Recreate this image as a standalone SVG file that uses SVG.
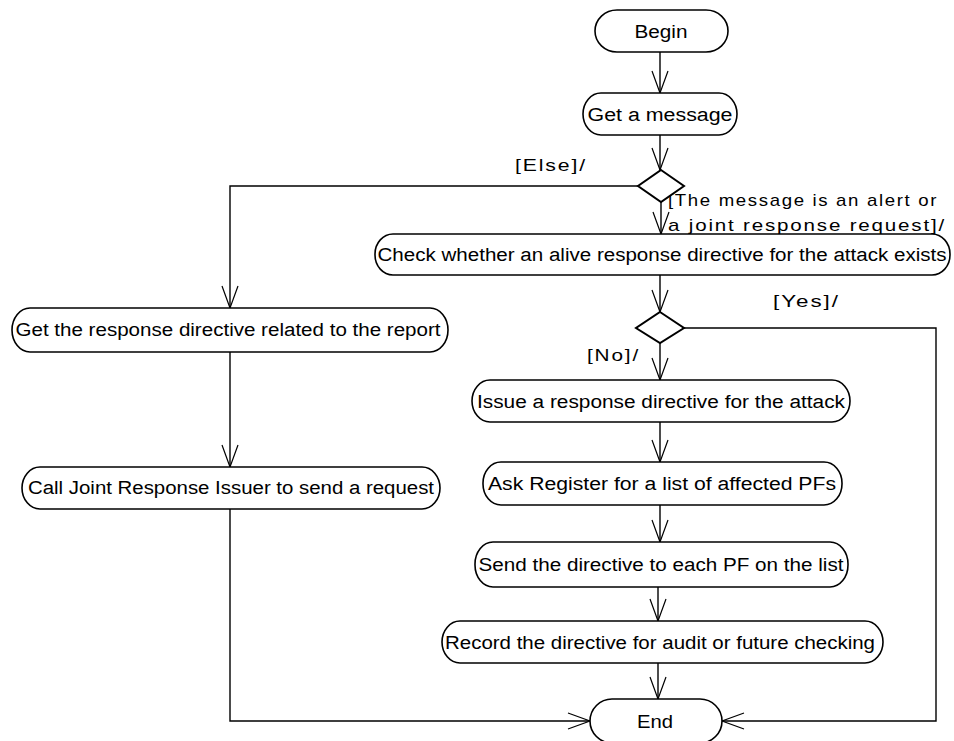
<svg xmlns="http://www.w3.org/2000/svg" width="954" height="741" viewBox="0 0 954 741">
<style>
.node{fill:#fff;stroke:#000;stroke-width:1.6}
.dia{fill:#fff;stroke:#000;stroke-width:2}
.t{font-family:"Liberation Sans",Arial,sans-serif;font-size:18px;fill:#000;text-anchor:middle}
.lbl{font-family:"Liberation Sans",Arial,sans-serif;font-size:17px;fill:#000;letter-spacing:1.5px}
.c{fill:none;stroke:#000;stroke-width:1.4}
</style>
<defs>
<marker id="arr" viewBox="0 0 24 18" refX="23" refY="9" markerWidth="24" markerHeight="18" markerUnits="userSpaceOnUse" orient="auto">
<path d="M1,1 L23,9 L1,17" fill="none" stroke="#000" stroke-width="1.2"/>
</marker>
</defs>
<rect width="954" height="741" fill="#fff"/>
<g id="connectors">
<path class="c" d="M660,52 V93" marker-end="url(#arr)"/>
<path class="c" d="M660,135 V170" marker-end="url(#arr)"/>
<path class="c" d="M661,202 V234" marker-end="url(#arr)"/>
<path class="c" d="M638,186 H230 V308" marker-end="url(#arr)"/>
<path class="c" d="M660,275 V312" marker-end="url(#arr)"/>
<path class="c" d="M660,343 V380" marker-end="url(#arr)"/>
<path class="c" d="M684,328 H936 V721 H722" marker-end="url(#arr)"/>
<path class="c" d="M660,422 V462" marker-end="url(#arr)"/>
<path class="c" d="M660,505 V542" marker-end="url(#arr)"/>
<path class="c" d="M658,587 V621" marker-end="url(#arr)"/>
<path class="c" d="M658,663 V699" marker-end="url(#arr)"/>
<path class="c" d="M230,352 V467" marker-end="url(#arr)"/>
<path class="c" d="M230,509 V721 H590" marker-end="url(#arr)"/>
<text class="lbl" x="515" y="171" textLength="72" lengthAdjust="spacingAndGlyphs">[Else]/</text>
<text class="lbl" x="668" y="206" textLength="270" lengthAdjust="spacingAndGlyphs">[The message is an alert or</text>
<text class="lbl" x="668" y="231" textLength="278" lengthAdjust="spacingAndGlyphs">a joint response request]/</text>
<text class="lbl" x="773" y="307" textLength="67" lengthAdjust="spacingAndGlyphs">[Yes]/</text>
<text class="lbl" x="587" y="361" textLength="53" lengthAdjust="spacingAndGlyphs">[No]/</text>
</g>
<g id="begin">
<rect class="node" x="595" y="10" width="133" height="42" rx="22" ry="21"/>
<text class="t" x="661" y="38" textLength="53" lengthAdjust="spacingAndGlyphs">Begin</text>
</g>
<g id="get-message">
<rect class="node" x="583" y="93" width="154" height="42" rx="18" ry="21"/>
<text class="t" x="660" y="121" textLength="145" lengthAdjust="spacingAndGlyphs">Get a message</text>
</g>
<g id="decision1">
<polygon class="dia" points="661,170 684,186 661,202 638,186"/>
</g>
<g id="check">
<rect class="node" x="375" y="234" width="575" height="41" rx="18" ry="20"/>
<text class="t" x="662" y="261" textLength="569" lengthAdjust="spacingAndGlyphs">Check whether an alive response directive for the attack exists</text>
</g>
<g id="decision2">
<polygon class="dia" points="660,312 684,328 660,343 636,328"/>
</g>
<g id="get-response">
<rect class="node" x="12" y="308" width="436" height="44" rx="18" ry="22"/>
<text class="t" x="228" y="336" textLength="425" lengthAdjust="spacingAndGlyphs">Get the response directive related to the report</text>
</g>
<g id="call-joint">
<rect class="node" x="22" y="467" width="418" height="42" rx="18" ry="21"/>
<text class="t" x="231" y="494" textLength="406" lengthAdjust="spacingAndGlyphs">Call Joint Response Issuer to send a request</text>
</g>
<g id="issue">
<rect class="node" x="472" y="380" width="378" height="42" rx="18" ry="21"/>
<text class="t" x="661" y="408" textLength="368" lengthAdjust="spacingAndGlyphs">Issue a response directive for the attack</text>
</g>
<g id="ask">
<rect class="node" x="483" y="462" width="359" height="43" rx="18" ry="21"/>
<text class="t" x="662" y="490" textLength="348" lengthAdjust="spacingAndGlyphs">Ask Register for a list of affected PFs</text>
</g>
<g id="send">
<rect class="node" x="475" y="542" width="373" height="45" rx="18" ry="22"/>
<text class="t" x="661" y="571" textLength="365" lengthAdjust="spacingAndGlyphs">Send the directive to each PF on the list</text>
</g>
<g id="record">
<rect class="node" x="442" y="621" width="441" height="42" rx="18" ry="21"/>
<text class="t" x="660" y="649" textLength="430" lengthAdjust="spacingAndGlyphs">Record the directive for audit or future checking</text>
</g>
<g id="end">
<rect class="node" x="590" y="699" width="132" height="44" rx="22" ry="22"/>
<text class="t" x="655" y="728" textLength="36" lengthAdjust="spacingAndGlyphs">End</text>
</g>
</svg>
